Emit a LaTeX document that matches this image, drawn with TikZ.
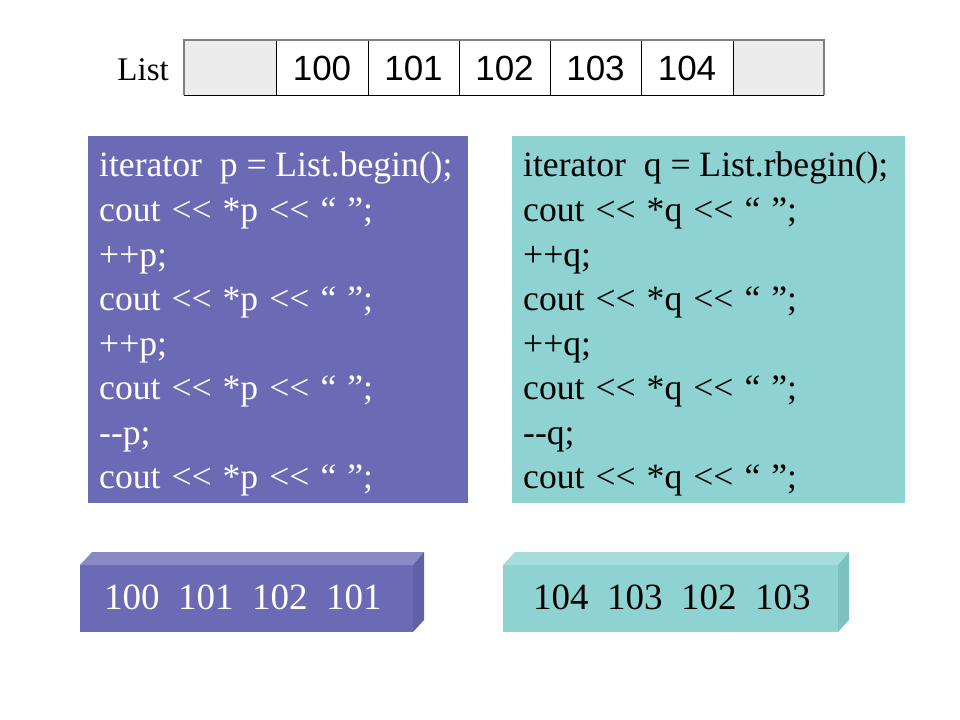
\documentclass[tikz,border=0pt]{standalone}
\usepackage{fontspec}
\setmainfont{Liberation Serif}
\newfontfamily\arialfont{Liberation Sans}
\definecolor{purp}{RGB}{107,107,181}
\definecolor{purptop}{RGB}{137,137,198}
\definecolor{purpside}{RGB}{96,96,166}
\definecolor{teal1}{RGB}{143,210,210}
\definecolor{tealtop}{RGB}{165,220,220}
\definecolor{tealside}{RGB}{125,192,192}
\definecolor{cellgray}{RGB}{236,236,236}
\definecolor{bordergray}{RGB}{128,128,128}
\newcommand\myCout[1]{{\spaceskip=0.31em\relax cout <{}< *#1 <{}< “ ”;}}
\begin{document}
\begin{tikzpicture}[x=1bp,y=-1bp,
  num/.style={font=\arialfont\fontsize{35bp}{40bp}\selectfont,inner sep=0},
  codeline/.style={anchor=base west,inner sep=0,font=\fontsize{35.6bp}{44bp}\selectfont},
  outtext/.style={anchor=base west,inner sep=0,font=\fontsize{37bp}{42bp}\selectfont}]
\useasboundingbox (0,0) rectangle (960,720);
% List label
\node[anchor=base east,inner sep=0,font=\fontsize{33bp}{38bp}\selectfont] (lbl) at (169,81) {List};
% table cells
\fill[cellgray] (184,40) rectangle (276,95);
\fill[cellgray] (733,40) rectangle (824,95);
\foreach \x in {276,368,459,550,641,733}{\draw[line width=0.8bp] (\x,40) -- (\x,95);}
\draw[line width=0.8bp] (184,95) -- (824,95);
\draw[bordergray,line width=2bp] (184,95) -- (184,40) -- (824,40) -- (824,95);
\node[num] (c1) at (322,68) {100};
\node[num] (c2) at (413.5,68) {101};
\node[num] (c3) at (504.5,68) {102};
\node[num] (c4) at (595.5,68) {103};
\node[num] (c5) at (687,68) {104};
% code boxes
\fill[purp] (88,136) rectangle (468,503);
\fill[teal1] (512,136) rectangle (905,503);
\foreach \n/\y/\t in {1/177/{iterator\ \ p = List.begin();},
  2/221.5/{\myCout{p}},
  3/266/{++p;},
  4/310.5/{\myCout{p}},
  5/355/{++p;},
  6/399.5/{\myCout{p}},
  7/444/{-{}-p;},
  8/488.5/{\myCout{p}}}
  {\node[codeline,text=white] (p\n) at (99,\y) {\t};}
\foreach \n/\y/\t in {1/177/{iterator\ \ q = List.rbegin();},
  2/221.5/{\myCout{q}},
  3/266/{++q;},
  4/310.5/{\myCout{q}},
  5/355/{++q;},
  6/399.5/{\myCout{q}},
  7/444/{-{}-q;},
  8/488.5/{\myCout{q}}}
  {\node[codeline,text=black] (q\n) at (523,\y) {\t};}
% output boxes (3D)
\fill[purp] (80,565) rectangle (413,632);
\fill[purptop] (80,565) -- (92,552) -- (424,552) -- (413,565) -- cycle;
\fill[purpside] (413,565) -- (424,552) -- (424,620) -- (413,632) -- cycle;
\node[outtext,text=white] (outp) at (104,609) {100\hspace{0.5em}101\hspace{0.5em}102\hspace{0.5em}101};
\fill[teal1] (503,565) rectangle (838,632);
\fill[tealtop] (503,565) -- (515,552) -- (849,552) -- (838,565) -- cycle;
\fill[tealside] (838,565) -- (849,552) -- (849,620) -- (838,632) -- cycle;
\node[outtext,text=black] (outq) at (533,609) {104\hspace{0.5em}103\hspace{0.5em}102\hspace{0.5em}103};
\end{tikzpicture}
\end{document}
